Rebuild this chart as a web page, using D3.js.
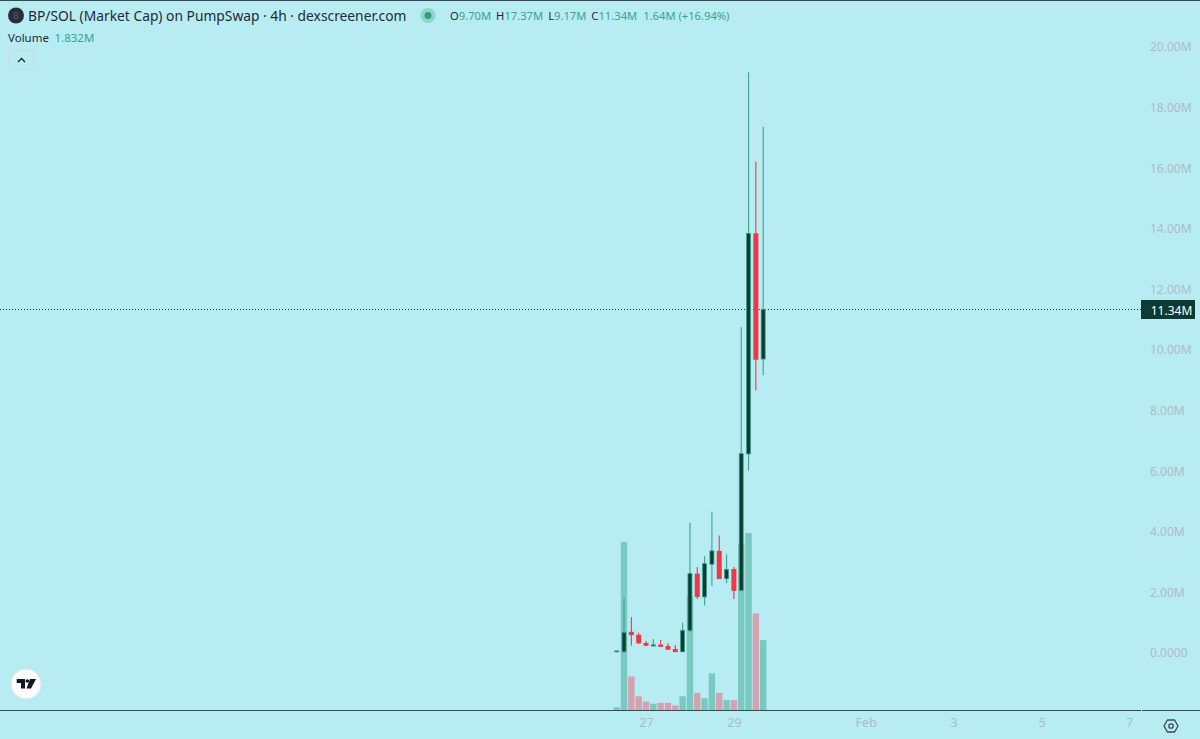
<!DOCTYPE html>
<html>
<head>
<meta charset="utf-8">
<script src="https://cdn.jsdelivr.net/npm/d3@7"></script>
<style>
html, body { margin: 0; padding: 0; background: #b8ecf3; overflow: hidden; }
svg { display: block; font-family: "Noto Sans", sans-serif; }
</style>
</head>
<body>
<svg id="chart" width="1200" height="739"></svg>
<script>
// one 4h candle per entry, first one opens Jan 26 08:00 UTC
var firstBar = Date.UTC(2025, 0, 26, 8);
var opens  = [0.04, 0.04, 0.70, 0.60, 0.33, 0.23, 0.28, 0.23, 0.13, 0.04, 0.74, 2.62, 1.85, 2.93, 3.37, 2.45, 2.77, 2.06, 6.57, 13.85, 9.70];
var highs  = [0.08, 1.82, 1.19, 0.67, 0.40, 0.46, 0.43, 0.32, 0.26, 1.01, 4.30, 2.84, 3.20, 4.66, 3.88, 3.26, 2.84, 10.75, 19.17, 16.21, 17.37];
var lows   = [0.02, 0.01, 0.25, 0.30, 0.22, 0.21, 0.20, 0.10, 0.03, 0.03, 0.69, 1.78, 1.57, 2.21, 2.44, 2.30, 1.78, 2.03, 6.02, 8.66, 9.17];
var closes = [0.07, 0.68, 0.59, 0.32, 0.24, 0.27, 0.20, 0.11, 0.03, 0.75, 2.62, 1.85, 2.95, 3.37, 2.44, 2.76, 2.05, 6.58, 13.85, 9.68, 11.34];
var volumes = [0.07, 4.40, 0.88, 0.36, 0.22, 0.165, 0.19, 0.19, 0.12, 0.36, 2.99, 0.45, 0.31, 0.96, 0.45, 0.26, 0.26, 4.35, 4.64, 2.53, 1.832];

var priceTicks = [0, 2, 4, 6, 8, 10, 12, 14, 16, 18, 20];
var timeTicks = [
	Date.UTC(2025, 0, 27), Date.UTC(2025, 0, 29), Date.UTC(2025, 1, 1),
	Date.UTC(2025, 1, 3), Date.UTC(2025, 1, 5), Date.UTC(2025, 1, 7)
];
var timeLabels = ["27", "29", "Feb", "3", "5", "7"];
var lastPrice = 11.34;

var bg = "#b8ecf3";
var upColor = "#3fa08e", downColor = "#f23645";
var upBody = "#0b3b32";
var upVol = "#79c9c0", downVol = "#d5a2b0";
var labelColor = "#aebbc5";
var lineColor = "#3f4a55";
var textColor = "#1f2a33", valueColor = "#35a48d";
var paneRight = 1141, paneBottom = 710;

var barMs = 4 * 3600 * 1000;
var bars = opens.map(function (o, i) {
	return { t: firstBar + i * barMs, o: o, h: highs[i], l: lows[i], c: closes[i], v: volumes[i] };
});

var x = d3.scaleUtc()
	.domain([Date.UTC(2025, 0, 27), Date.UTC(2025, 1, 7)])
	.range([646, 1129.4]);
var y = d3.scaleLinear().domain([0, 20]).range([653, 47]);
var yVol = d3.scaleLinear().domain([0, 4.64]).range([paneBottom, 533]);

var svg = d3.select("#chart");
svg.append("rect").attr("width", 1200).attr("height", 739).attr("fill", bg);
svg.append("rect").attr("width", 1200).attr("height", 1).attr("fill", "#3d4650");

// volume sits behind the candles
svg.append("g").selectAll("rect").data(bars).enter().append("rect")
	.attr("x", function (d) { return x(d.t) - 3.2; })
	.attr("width", 6.4)
	.attr("y", function (d) { return yVol(d.v); })
	.attr("height", function (d) { return paneBottom - yVol(d.v); })
	.attr("fill", function (d) { return d.c >= d.o ? upVol : downVol; });

// last price line
svg.append("line")
	.attr("x1", 0).attr("x2", paneRight)
	.attr("y1", Math.round(y(lastPrice)) + 0.5).attr("y2", Math.round(y(lastPrice)) + 0.5)
	.attr("stroke", "#0b3b32").attr("stroke-dasharray", "1 2");

var candles = svg.append("g").selectAll("g").data(bars).enter().append("g");
candles.append("line")
	.attr("x1", function (d) { return x(d.t); })
	.attr("x2", function (d) { return x(d.t); })
	.attr("y1", function (d) { return y(d.h); })
	.attr("y2", function (d) { return y(d.l); })
	.attr("stroke", function (d) { return d.c >= d.o ? upColor : downColor; })
	.attr("stroke-width", 1.1);
candles.append("rect")
	.attr("x", function (d) { return x(d.t) - (d.c >= d.o ? 2 : 2.5); })
	.attr("width", function (d) { return d.c >= d.o ? 4 : 5; })
	.attr("y", function (d) { return y(Math.max(d.o, d.c)); })
	.attr("height", function (d) { return Math.max(1, Math.abs(y(d.o) - y(d.c))); })
	.attr("fill", function (d) { return d.c >= d.o ? upBody : downColor; })
	.attr("stroke", function (d) { return d.c >= d.o ? upColor : "none"; })
	.attr("stroke-width", 0.8);

// axes
var yAxis = d3.axisRight(y)
	.tickValues(priceTicks)
	.tickSize(0)
	.tickPadding(0)
	.tickFormat(function (d) { return d === 0 ? "0.0000" : d3.format(".2f")(d) + "M"; });
var yG = svg.append("g").attr("transform", "translate(1150,0)").call(yAxis);
yG.select(".domain").remove();
yG.selectAll("text").attr("fill", labelColor).attr("font-size", 12).attr("font-family", "Noto Sans");

var xAxis = d3.axisBottom(x)
	.tickValues(timeTicks)
	.tickSize(0)
	.tickPadding(0)
	.tickFormat(function (d, i) { return timeLabels[i]; });
var xG = svg.append("g").attr("transform", "translate(0,718)").call(xAxis);
xG.select(".domain").remove();
xG.selectAll("text").attr("fill", labelColor).attr("font-size", 12.5).attr("font-family", "Noto Sans");

svg.append("line").attr("x1", 0).attr("x2", 1200)
	.attr("y1", paneBottom + 0.5).attr("y2", paneBottom + 0.5)
	.attr("stroke", lineColor);

// last price tag
svg.append("rect").attr("x", paneRight).attr("y", 300).attr("width", 54).attr("height", 19).attr("fill", "#0b3b32");
svg.append("text").attr("x", 1171.5).attr("y", 314.5).attr("text-anchor", "middle")
	.attr("fill", "#ffffff").attr("font-size", 12)
	.text(d3.format(".2f")(lastPrice) + "M");

// legend
svg.append("circle").attr("cx", 16).attr("cy", 15.5).attr("r", 8).attr("fill", "#2a2e3a");
svg.append("text").attr("x", 16).attr("y", 19).attr("text-anchor", "middle")
	.attr("fill", "#555a66").attr("font-size", 9).text("B");
svg.append("text").attr("x", 28).attr("y", 20.5).attr("fill", textColor).attr("font-size", 13.8)
	.text("BP/SOL (Market Cap) on PumpSwap · 4h · dexscreener.com");
svg.append("circle").attr("cx", 428).attr("cy", 15.5).attr("r", 7.5).attr("fill", "#8ed6c6");
svg.append("circle").attr("cx", 428).attr("cy", 15.5).attr("r", 3.5).attr("fill", "#2f9e85");

var legendItems = [["O", "9.70M"], ["H", "17.37M"], ["L", "9.17M"], ["C", "11.34M"]];
var legend = svg.append("text").attr("x", 450).attr("y", 20).attr("font-size", 11.2);
legendItems.forEach(function (it, i) {
	legend.append("tspan").attr("dx", i ? 5 : 0).attr("fill", textColor).text(it[0]);
	legend.append("tspan").attr("fill", valueColor).text(it[1]);
});
legend.append("tspan").attr("dx", 6).attr("fill", valueColor).text("1.64M (+16.94%)");

svg.append("text").attr("x", 8).attr("y", 41.5).attr("fill", textColor).attr("font-size", 11.5).text("Volume");
svg.append("text").attr("x", 54.5).attr("y", 41.5).attr("fill", valueColor).attr("font-size", 11.5).text("1.832M");

// collapse button
svg.append("rect").attr("x", 8.5).attr("y", 50.5).attr("width", 26).attr("height", 18).attr("rx", 2)
	.attr("fill", "none").attr("stroke", "#cfdbe2");
svg.append("path").attr("d", "M18 62l3.5-3.5l3.5 3.5").attr("fill", "none").attr("stroke", textColor).attr("stroke-width", 1.4);

// tradingview badge
svg.append("circle").attr("cx", 26).attr("cy", 684).attr("r", 15).attr("fill", "#ffffff").attr("stroke", "#e3e6f0");
svg.append("path").attr("d", "M16.7 679h8.3v9.5h-4v-5.5h-4.3z M30 679h6l-5 9.5h-4.5z").attr("fill", "#131722");
svg.append("circle").attr("cx", 27.3).attr("cy", 681).attr("r", 1.8).attr("fill", "#131722");

// settings gear
svg.append("path").attr("d", "M1167.5 720h7l3.5 6l-3.5 6h-7l-3.5-6z").attr("fill", "none").attr("stroke", lineColor).attr("stroke-width", 1.3);
svg.append("circle").attr("cx", 1171).attr("cy", 726).attr("r", 2.2).attr("fill", "none").attr("stroke", lineColor).attr("stroke-width", 1.3);
// little break in the axis line at the pane corner
svg.append("rect").attr("x", paneRight).attr("y", paneBottom - 1).attr("width", 1).attr("height", 3).attr("fill", "#dff4f8");
</script>
</body>
</html>
